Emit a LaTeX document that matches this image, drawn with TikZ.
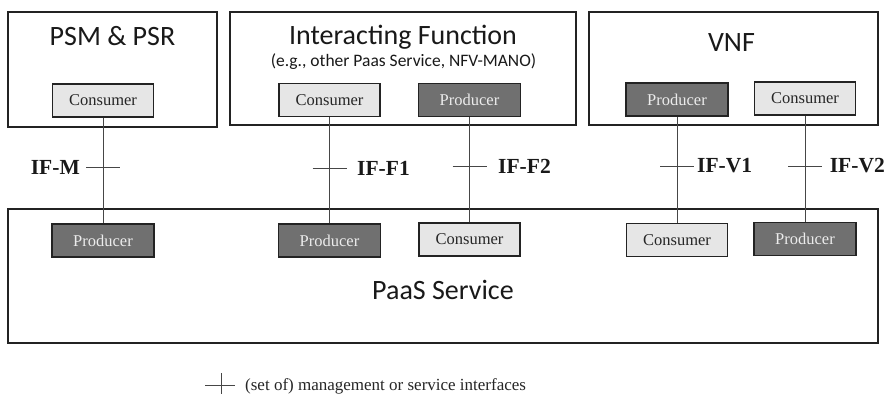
\documentclass[tikz,border=0pt]{standalone}
\usepackage{fontspec}
\setmainfont{Liberation Serif}
\newfontfamily\titlefont{Carlito}
\definecolor{edge}{RGB}{35,35,35}
\definecolor{wire}{RGB}{70,70,70}
\definecolor{prodfill}{RGB}{112,112,112}
\definecolor{prodtext}{RGB}{236,236,236}
\definecolor{consfill}{RGB}{230,230,230}
\tikzset{
  bigbox/.style={draw=edge, line width=1.4pt, fill=white, inner sep=0pt},
  producer/.style={draw=edge, line width=1.3pt, fill=prodfill, text=prodtext,
    minimum width=102pt, minimum height=33pt, inner sep=0pt,
    font=\fontsize{16.5}{18}\selectfont},
  consumer/.style={draw=edge, line width=1.3pt, fill=consfill, text=black!85,
    minimum width=101pt, minimum height=33pt, inner sep=0pt,
    font=\fontsize{16.5}{18}\selectfont},
  title/.style={inner sep=0pt, anchor=base, font=\titlefont\fontsize{28}{30}\selectfont, text=black!90},
  subtitle/.style={inner sep=0pt, anchor=base, font=\titlefont\fontsize{17.5}{19}\selectfont, text=black!90},
  wireline/.style={draw=wire, line width=0.8pt},
  iflabel/.style={inner sep=0pt, font=\bfseries\fontsize{21.5}{23}\selectfont, text=black!90},
}
\begin{document}
\begin{tikzpicture}[x=1pt, y=-1pt]
\useasboundingbox (0,0) rectangle (886,394);

% outer function boxes
\node[bigbox, minimum width=209pt, minimum height=115pt] (psm) at (112.5,69.5) {};
\node[bigbox, minimum width=346pt, minimum height=113pt] (inter) at (403,68.5) {};
\node[bigbox, minimum width=289pt, minimum height=113pt] (vnf) at (733.5,68.5) {};
\node[bigbox, minimum width=870pt, minimum height=134pt] (paas) at (443,276) {};

% titles
\node[title] (tpsm) at (112.5,45) {PSM \& PSR};
\node[title] (tinter) at (403,44) {Interacting Function};
\node[subtitle] (tsub) at (403.5,66) {(e.g., other Paas Service, NFV-MANO)};
\node[title] (tvnf) at (731.5,51) {VNF};
\node[title] (tpaas) at (443,299) {PaaS Service};

% endpoints inside the function boxes
\node[consumer] (c1) at (103,100.5) {Consumer};
\node[consumer] (c2) at (329.5,100) {Consumer};
\node[producer] (p2) at (469.5,100) {Producer};
\node[producer] (p3) at (677,99.5) {Producer};
\node[consumer] (c4) at (805,98.5) {Consumer};

% endpoints inside the PaaS service
\node[producer] (q1) at (103,240.5) {Producer};
\node[producer] (q2) at (329.5,240.5) {Producer};
\node[consumer] (d2) at (469.5,239.5) {Consumer};
\node[consumer] (d3) at (677,240) {Consumer};
\node[producer] (q4) at (805,239) {Producer};

% interface connectors
\draw[wireline] (c1.south) -- (q1.north);
\draw[wireline] (c2.south) -- (q2.north);
\draw[wireline] (p2.south) -- (d2.north);
\draw[wireline] (p3.south) -- (d3.north);
\draw[wireline] (c4.south) -- (q4.north);

% interface ticks
\coordinate (tm) at (103,167);
\coordinate (tf1) at (329.5,168);
\coordinate (tf2) at (469.5,166);
\coordinate (tv1) at (677,166);
\coordinate (tv2) at (805,166);
\foreach \t in {tm,tf1,tf2,tv1,tv2}
  \draw[wireline] ([xshift=-17pt]\t) -- ([xshift=17pt]\t);

% interface labels
\node[iflabel, anchor=east] (lm) at (80,167.5) {IF-M};
\node[iflabel, anchor=west] (lf1) at (357,168) {IF-F1};
\node[iflabel, anchor=west] (lf2) at (498,166) {IF-F2};
\node[iflabel, anchor=west] (lv1) at (697,166) {IF-V1};
\node[iflabel, anchor=east] (lv2) at (885,166) {IF-V2};

% legend
\coordinate (leg) at (221,385);
\draw[wireline] ([xshift=-16pt]leg) -- ([xshift=14pt]leg);
\draw[wireline] ([yshift=12pt]leg) -- ([yshift=-9pt]leg);
\node[inner sep=0pt, anchor=base west, font=\fontsize{17}{19}\selectfont, text=black!85] (legtext) at (245,390)
  {(set of) management or service interfaces};
\end{tikzpicture}
\end{document}
